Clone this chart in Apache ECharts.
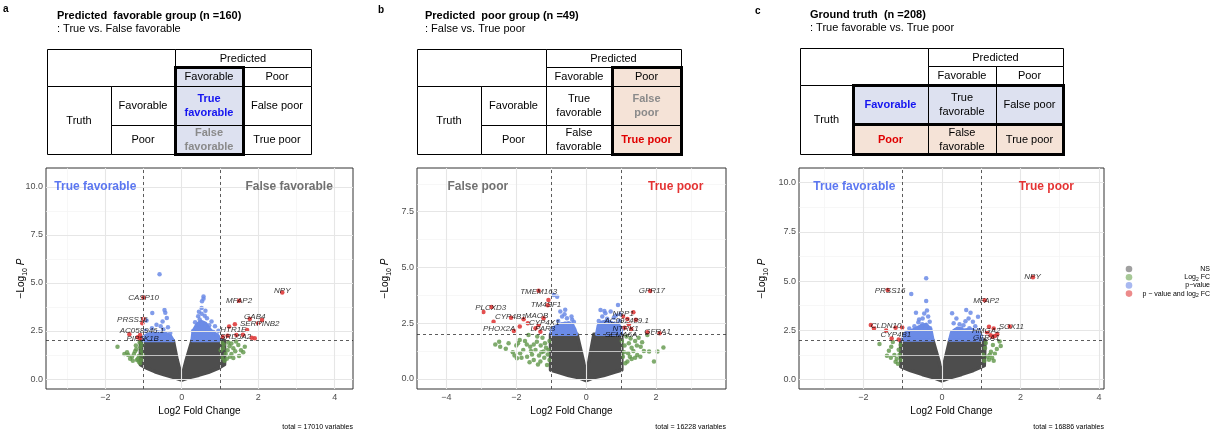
<!DOCTYPE html>
<html><head><meta charset="utf-8">
<script src="https://cdn.jsdelivr.net/npm/echarts@6/dist/echarts.min.js"></script>
<style>html,body{margin:0;padding:0;background:#fff}#c{width:1217px;height:438px}</style>
</head><body><div id="c"></div>
<script>
// ---------------- DATA ----------------
// Panel a : Predicted favorable group
const A_X_TICKS = [-2, 0, 2, 4];
const A_X_MINOR = [-3, -1, 1, 3];
const A_Y_TICKS = [0, 2.5, 5, 7.5, 10];
const A_Y_MINOR = [1.25, 3.75, 6.25, 8.75];
const A_GREY_AREA = [[-1.08,2.0],[-1.08,0.75],[-0.9,0.55],[-0.7,0.38],[-0.45,0.22],[-0.2,0.08],[0,-0.05],[0.2,0.08],[0.45,0.2],[0.7,0.35],[0.95,0.55],[1.12,0.75],[1.12,2.0],[0.27,2.0],[0.12,1.0],[0.03,0.32],[0,0.22],[-0.03,0.32],[-0.12,1.0],[-0.22,2.0]];
const A_BLUE_AREA_L = [[-1.0,2.0],[-1.0,2.2],[-0.85,2.35],[-0.65,2.45],[-0.45,2.4],[-0.3,2.25],[-0.22,2.0]];
const A_BLUE_AREA_R = [[0.27,2.0],[0.3,2.5],[0.4,2.85],[0.5,3.0],[0.62,2.9],[0.75,2.55],[0.9,2.3],[1.0,2.15],[1.0,2.0]];
const A_BLUE = [[-0.58,5.45],[-0.77,3.44],[-0.45,3.6],[-0.43,3.45],[-0.39,3.18],[-0.92,3.05],[-0.5,3.0],[-0.66,2.82],[-0.78,2.65],[-0.48,2.58],[-0.3,2.4],[-0.7,2.3],[-0.95,2.5],[-0.55,2.75],[-0.36,2.7],[-0.6,2.2],[-0.85,2.15],
  [0.57,4.3],[0.57,4.18],[0.53,4.05],[0.52,3.7],[0.35,2.95],[0.43,3.27],[0.52,3.4],[0.66,3.17],[0.78,3.0],[0.87,2.75],[0.4,2.65],[0.52,2.87],[0.96,2.52],[0.92,2.3],[0.6,3.3],[0.47,3.1],[0.72,2.8],[0.3,2.5],[0.68,2.6],[0.83,2.45],[0.62,3.55],[0.45,3.5]];
const A_GREEN = [[-1.68,1.68],[-1.43,1.39],[-1.19,1.55],[-1.17,0.99],[-1.09,0.82],[-1.3,1.16],[-1.25,1.3],[-1.12,1.2],[-1.05,1.45],[-1.2,1.75],[-1.1,1.9],[-1.35,1.05],[-1.15,1.05],[-1.05,1.0],[-1.28,0.95],[-1.08,1.65],[-1.22,1.45],[-1.4,1.25],[-1.02,1.25],[-1.12,0.9],[-1.5,1.3],[-1.03,1.8],
  [1.61,1.39],[1.65,1.68],[1.48,1.77],[1.26,1.16],[1.2,1.5],[1.1,1.8],[1.35,1.6],[1.15,1.3],[1.05,1.1],[1.3,1.3],[1.4,1.45],[1.08,1.6],[1.22,1.9],[1.5,1.2],[1.18,1.05],[1.02,1.5],[1.3,1.85],[1.42,1.95],[1.12,0.95],[1.55,1.5],[1.25,1.7],[1.05,1.9],[1.35,1.1]];
const A_RED = [[2.63,4.5],[-1.0,4.25],[1.5,4.08],[1.78,3.13],[2.1,3.07],[2.0,2.9],[1.24,2.73],[1.39,2.85],[1.71,2.55],[1.43,2.29],[1.83,2.15],[1.91,2.12],[1.07,2.2],[-1.0,3.13],[-1.03,2.9],[-1.37,2.33],[-1.09,2.29],[-1.09,2.12],[-1.15,2.18],[1.2,2.25],[1.6,2.3]];
const A_GENES = [['NPY',2.63,4.62],['CASP10',-1.0,4.25],['MFAP2',1.5,4.08],['GAB4',1.91,3.25],['SERPINB2',2.04,2.86],['PRSS16',-1.29,3.07],['HTR1E',1.35,2.55],['AC058946.1',-1.04,2.5],['SRD5A2',1.41,2.2],['PIP5K1B',-1.02,2.12]];
const A_CORNERS = [['True favorable',-2.26,10.0],['False favorable',2.81,10.0]];

// Panel b : Predicted poor group
const B_X_TICKS = [-4, -2, 0, 2];
const B_X_MINOR = [-3, -1, 1, 3];
const B_Y_TICKS = [0, 2.5, 5, 7.5];
const B_Y_MINOR = [1.25, 3.75, 6.25, 8.75];
const B_GREY_AREA = [[-1.02,2.0],[-1.02,0.4],[-0.8,0.3],[-0.5,0.15],[-0.2,0.05],[0,-0.08],[0.2,0.05],[0.5,0.15],[0.8,0.3],[1.02,0.4],[1.02,2.0],[0.22,2.0],[0.08,0.8],[0,0.15],[-0.08,0.8],[-0.26,2.0]];
const B_BLUE_AREA_L = [[-1.0,2.0],[-0.98,2.25],[-0.8,2.4],[-0.6,2.5],[-0.4,2.45],[-0.32,2.2],[-0.28,2.0]];
const B_BLUE_AREA_R = [[0.3,2.0],[0.35,2.4],[0.45,2.55],[0.6,2.6],[0.75,2.5],[0.9,2.45],[1.0,2.3],[1.0,2.0]];
const B_BLUE = [[-0.93,3.77],[-0.83,3.69],[-0.74,3.02],[-0.55,2.72],[-0.4,2.65],[-0.69,2.8],[-0.5,2.5],[-0.45,2.35],[-0.8,2.6],[-0.62,2.9],[-0.35,2.55],[-0.9,2.3],[-0.7,2.45],[-0.55,2.2],[-0.98,2.1],[-0.42,2.8],[-0.6,3.1],
  [0.91,3.32],[0.41,3.09],[0.7,3.02],[0.46,2.8],[0.79,2.75],[0.55,2.95],[0.85,2.85],[0.36,2.6],[0.6,2.7],[0.95,2.6],[0.5,2.35],[0.72,2.4],[0.88,2.25],[0.42,2.2],[0.65,2.5],[0.98,2.9],[0.52,3.05]];
const B_GREEN = [[-2.49,1.67],[-2.46,1.45],[-2.22,1.6],[-1.98,0.93],[-1.89,1.15],[-1.69,1.0],[-1.6,1.45],[-1.41,1.67],[-1.31,0.78],[-1.22,1.23],[-1.12,0.63],[-1.65,1.97],[-2.3,1.35],[-2.1,1.2],[-2.0,1.5],[-1.8,1.3],[-1.75,1.7],[-1.55,1.1],[-1.5,0.85],[-1.45,1.3],[-1.35,1.05],[-1.3,1.5],[-1.25,1.85],[-1.2,0.95],[-1.15,1.4],[-1.1,1.1],[-1.05,1.7],[-1.05,0.85],[-1.4,1.9],[-1.9,1.75],[-1.7,1.55],[-2.05,1.05],[-1.85,0.95],[-1.58,1.25],[-1.28,1.2],[-1.18,1.6],[-1.5,1.55],[-1.62,0.75],[-1.08,1.3],[-1.38,0.65],[-2.6,1.55],[-1.95,1.6],
  [2.21,1.41],[2.04,1.23],[1.94,0.78],[1.8,1.23],[1.56,1.45],[1.46,1.08],[1.27,1.82],[1.18,0.78],[1.75,1.97],[1.3,1.4],[1.2,1.15],[1.1,1.5],[1.05,1.0],[1.4,1.7],[1.35,1.25],[1.15,1.9],[1.08,1.2],[1.6,1.65],[1.25,1.0],[1.5,1.85],[1.12,0.7],[1.45,1.5],[1.3,0.9],[1.65,1.25],[1.02,1.7],[1.22,1.6],[1.55,1.0],[1.4,0.95]];
const B_RED = [[-2.94,3.0],[-2.71,3.23],[-2.65,2.56],[-2.15,2.74],[-1.9,2.35],[-2.07,2.15],[-1.79,2.68],[-1.67,2.5],[-1.45,2.27],[-1.36,2.42],[-1.31,2.12],[-1.08,3.54],[-1.36,3.96],[-1.1,3.3],[-1.22,2.72],
  [1.83,3.95],[1.35,2.99],[1.18,2.69],[1.42,2.65],[1.22,2.45],[1.29,2.24],[1.75,2.09],[1.05,2.8],[1.1,2.3],[2.1,2.05]];
const B_GENES = [['TMEM163',-1.36,3.92],['GPR17',1.88,3.95],['TM4SF1',-1.15,3.32],['PLCXD3',-2.73,3.17],['CYP4B1',-2.17,2.77],['MAOB',-1.42,2.84],['CYP4X1',-1.2,2.54],['PHOX2A',-2.49,2.23],['LPAR3',-1.24,2.24],['NRP1',1.06,2.91],['AC092489.1',1.16,2.62],['NTRK1',1.13,2.27],['SEMA6A',1.0,1.97],['GFRA1',2.04,2.12]];
const B_CORNERS = [['False poor',-3.1,8.61],['True poor',2.56,8.61]];

// Panel c : Ground truth
const C_X_TICKS = [-2, 0, 2, 4];
const C_X_MINOR = [-3, -1, 1, 3];
const C_Y_TICKS = [0, 2.5, 5, 7.5, 10];
const C_Y_MINOR = [1.25, 3.75, 6.25, 8.75];
const C_GREY_AREA = [[-1.05,2.0],[-1.05,0.65],[-0.8,0.45],[-0.5,0.25],[-0.2,0.08],[0,-0.08],[0.2,0.08],[0.5,0.25],[0.8,0.45],[1.08,0.7],[1.1,2.0],[0.2,2.0],[0.07,0.9],[0,0.2],[-0.07,0.9],[-0.23,2.0]];
const C_BLUE_AREA_L = [[-1.0,2.0],[-0.95,2.3],[-0.75,2.5],[-0.55,2.7],[-0.4,2.8],[-0.28,2.5],[-0.23,2.0]];
const C_BLUE_AREA_R = [[0.2,2.0],[0.25,2.4],[0.4,2.6],[0.55,2.5],[0.75,2.55],[0.9,2.4],[1.0,2.2],[1.0,2.0]];
const C_BLUE = [[-0.4,5.14],[-0.78,4.34],[-0.4,3.98],[-0.66,3.39],[-0.45,3.35],[-0.49,3.1],[-0.31,2.93],[-0.83,2.59],[-0.9,2.4],[-0.6,2.9],[-0.35,3.2],[-0.5,2.8],[-0.7,2.7],[-0.42,2.55],[-0.95,2.25],[-0.3,2.6],[-0.58,3.05],[-0.38,3.5],
  [0.62,3.53],[0.73,3.39],[0.26,3.36],[0.92,3.19],[0.37,3.1],[0.79,2.93],[0.49,2.59],[0.3,2.85],[0.6,2.95],[0.85,2.7],[0.95,2.5],[0.45,2.8],[0.68,3.1],[0.55,2.75],[0.35,2.5],[0.8,2.35],[0.98,2.25],[0.7,2.6]];
const C_GREEN = [[-1.59,1.8],[-1.29,1.66],[-1.21,1.24],[-1.04,0.98],[-1.15,1.05],[-1.35,1.45],[-1.1,1.5],[-1.25,1.9],[-1.05,1.75],[-1.18,0.9],[-1.4,1.2],[-1.08,1.25],[-1.3,1.1],[-1.12,0.8],
  [1.47,1.92],[1.3,1.75],[1.17,1.15],[1.25,1.4],[1.1,1.6],[1.05,1.25],[1.35,1.3],[1.2,1.0],[1.4,1.55],[1.12,1.85],[1.28,1.1],[1.08,0.95],[1.5,1.7],[1.22,1.25],[1.32,0.95]];
const C_RED = [[-1.81,2.76],[-1.73,2.59],[-1.42,2.49],[-1.18,2.63],[-1.01,2.64],[-1.1,2.03],[-1.28,2.08],[1.2,2.68],[1.32,2.59],[1.73,2.69],[1.24,2.25],[1.29,2.17],[1.41,2.3],[1.09,4.03],[2.32,5.19],[-1.38,4.54],[1.15,2.4],[1.35,2.2]];
const C_GENES = [['NPY',2.31,5.2],['PRSS16',-1.32,4.52],['MFAP2',1.13,4.0],['SOX11',1.77,2.69],['CLDN10',-1.42,2.75],['CYP4B1',-1.17,2.25],['HMGA2',1.13,2.47],['GFRA1',1.13,2.14]];
const C_CORNERS = [['True favorable',-2.23,9.78],['True poor',2.66,9.78]];

const FC_CUTOFFS = [-1, 1];
const P_CUTOFF = 2;

// ---------------- STYLE / LAYOUT ----------------
const FONT = "'Liberation Sans', Arial, Helvetica, sans-serif";
const TFONT = "'Liberation Sans Narrow', 'Liberation Sans', Arial, sans-serif";
const COL = {grey:'#4d4d4d', green:'#5f9649', blue:'#6b8be6', red:'#e03c3c'};
const CORNER_COL = {'True favorable':'#3355ee', 'False favorable':'#4d4d4d', 'False poor':'#4d4d4d', 'True poor':'#dd0000'};
const BLUEF = '#dde1f0', PEACH = '#f5e3d7';

const PANELS = [
  {grid:{left:46, top:168, width:307, height:221}, x:[-3.55,4.48], y:[-0.52,10.99], nameGap:17,
   xt:A_X_TICKS, xm:A_X_MINOR, yt:A_Y_TICKS, ym:A_Y_MINOR, grey:A_GREY_AREA, bl:A_BLUE_AREA_L, br:A_BLUE_AREA_R,
   blue:A_BLUE, green:A_GREEN, red:A_RED, genes:A_GENES, corners:A_CORNERS, total:'total = 17010 variables'},
  {grid:{left:417, top:168, width:309, height:221}, x:[-4.84,4.0], y:[-0.45,9.46], nameGap:24,
   xt:B_X_TICKS, xm:B_X_MINOR, yt:B_Y_TICKS, ym:B_Y_MINOR, grey:B_GREY_AREA, bl:B_BLUE_AREA_L, br:B_BLUE_AREA_R,
   blue:B_BLUE, green:B_GREEN, red:B_RED, genes:B_GENES, corners:B_CORNERS, total:'total = 16228 variables'},
  {grid:{left:799, top:168, width:305, height:221}, x:[-3.64,4.13], y:[-0.49,10.75], nameGap:29,
   xt:C_X_TICKS, xm:C_X_MINOR, yt:C_Y_TICKS, ym:C_Y_MINOR, grey:C_GREY_AREA, bl:C_BLUE_AREA_L, br:C_BLUE_AREA_R,
   blue:C_BLUE, green:C_GREEN, red:C_RED, genes:C_GENES, corners:C_CORNERS, total:'total = 16886 variables'}
];

const fmtX = v => (v < 0 ? '\u2212' + Math.abs(v) : String(v));
const fmtY = v => v.toFixed(1);

const grids = [], xAxes = [], yAxes = [], series = [];
PANELS.forEach((P, i) => {
  grids.push(Object.assign({show:true, borderColor:'#333', borderWidth:1, backgroundColor:'#fff', containLabel:false}, P.grid));
  xAxes.push({type:'value', gridIndex:i, min:P.x[0], max:P.x[1],
    name:'Log2 Fold Change', nameLocation:'middle', nameGap:17, nameMoveOverlap:false,
    nameTextStyle:{fontFamily:FONT, fontSize:10, color:'#000'},
    axisLine:{show:false}, splitLine:{show:false},
    axisTick:{show:true, length:3, customValues:P.xt, lineStyle:{color:'#333'}},
    axisLabel:{customValues:P.xt, formatter:fmtX, fontFamily:FONT, fontSize:9, color:'#4d4d4d', margin:4}});
  yAxes.push({type:'value', gridIndex:i, min:P.y[0], max:P.y[1],
    name:'{a|\u2212Log}{s|10}{a| }{i|P}', nameLocation:'middle', nameGap:P.nameGap, nameRotate:90,
    nameMoveOverlap:false,
    nameTextStyle:{fontFamily:FONT, color:'#000', rich:{
      a:{fontFamily:FONT, fontSize:10, color:'#000', lineHeight:14},
      s:{fontFamily:FONT, fontSize:7, color:'#000', lineHeight:16, verticalAlign:'bottom'},
      i:{fontFamily:FONT, fontSize:10, color:'#000', fontStyle:'italic', lineHeight:14}}},
    axisLine:{show:false}, splitLine:{show:false},
    axisTick:{show:true, length:3, customValues:P.yt, lineStyle:{color:'#333'}},
    axisLabel:{customValues:P.yt, formatter:fmtY, fontFamily:FONT, fontSize:9, color:'#4d4d4d', margin:3}});
  const ax = {xAxisIndex:i, yAxisIndex:i};
  // background grid lines
  const gl = [];
  P.xm.forEach(v => gl.push({xAxis:v, lineStyle:{color:'#f3f3f3', width:0.7, type:'solid'}}));
  P.ym.forEach(v => gl.push({yAxis:v, lineStyle:{color:'#f3f3f3', width:0.7, type:'solid'}}));
  P.xt.forEach(v => gl.push({xAxis:v, lineStyle:{color:'#e6e6e6', width:1.1, type:'solid'}}));
  P.yt.forEach(v => gl.push({yAxis:v, lineStyle:{color:'#e6e6e6', width:1.1, type:'solid'}}));
  series.push({type:'scatter', ...ax, data:[], z:1, silent:true,
    markLine:{silent:true, symbol:'none', animation:false, label:{show:false}, data:gl}});
  // dense clouds
  const polys = [{pts:P.grey, color:COL.grey}, {pts:P.bl, color:COL.blue}, {pts:P.br, color:COL.blue}];
  series.push({type:'custom', ...ax, z:2, silent:true, clip:true,
    data: polys.map(p => p.pts[0]),
    renderItem:(params, api) => {
      const p = polys[params.dataIndex];
      return {type:'polygon', shape:{points:p.pts.map(q => api.coord(q))},
        style:{fill:p.color, stroke:p.color, lineWidth:3.5, lineJoin:'round'}};
    }});
  series.push({type:'scatter', ...ax, z:3, silent:true, data:P.green, symbolSize:4.5,
    itemStyle:{color:COL.green, opacity:0.8}});
  series.push({type:'scatter', ...ax, z:3, silent:true, data:P.blue, symbolSize:4.5,
    itemStyle:{color:COL.blue, opacity:0.85}});
  series.push({type:'scatter', ...ax, z:4, silent:true, data:P.red, symbolSize:4.5,
    itemStyle:{color:COL.red, opacity:0.9}});
  // cutoff lines
  const cl = FC_CUTOFFS.map(v => ({xAxis:v})).concat([{yAxis:P_CUTOFF}]);
  series.push({type:'scatter', ...ax, data:[], z:5, silent:true,
    markLine:{silent:true, symbol:'none', animation:false, label:{show:false},
      lineStyle:{color:'#333', width:0.8, type:[3,3]}, data:cl}});
  // gene labels
  series.push({type:'scatter', ...ax, z:6, silent:true, symbolSize:0,
    data:P.genes.map(g => ({name:g[0], value:[g[1], g[2]]})),
    label:{show:true, position:'inside', formatter:'{b}', color:'#000', fontStyle:'italic',
      fontFamily:FONT, fontSize:8}});
  // corner group names
  series.push({type:'scatter', ...ax, z:6, silent:true, symbolSize:0,
    data:P.corners.map(g => ({name:g[0], value:[g[1], g[2]],
      label:{color:CORNER_COL[g[0]]}})),
    label:{show:true, position:'inside', formatter:'{b}', fontWeight:'bold',
      fontFamily:FONT, fontSize:12}});
});

// ---------------- GRAPHICS: titles, tables, legend ----------------
const G = [];
function txt(x, y, text, o = {}) {
  G.push({type:'text', x, y, z:10, style:Object.assign({text, fontFamily:FONT, fontSize:10, fill:'#000',
    align:'left', verticalAlign:'middle'}, o)});
}
function cell(x0, y0, x1, y1, text, o = {}) {
  G.push({type:'rect', z:5, shape:{x:x0+0.5, y:y0+0.5, width:x1-x0, height:y1-y0},
    style:{fill:o.fill || '#fff', stroke:'#000', lineWidth:1}});
  if (text) G.push({type:'text', z:8, x:(x0+x1)/2, y:(y0+y1)/2+0.5,
    style:{text, align:'center', verticalAlign:'middle', fontFamily:FONT, fontSize:11,
      fontWeight:o.bold ? 'bold' : 'normal', fill:o.color || '#000', lineHeight:14}});
}
function thick(x0, y0, x1, y1) {
  G.push({type:'rect', z:7, shape:{x:x0+0.5, y:y0+0.5, width:x1-x0, height:y1-y0},
    style:{fill:null, stroke:'#000', lineWidth:3}});
}
// panel letters & titles
txt(3, 9, 'a', {fontWeight:'bold', fontSize:10});
txt(378, 10, 'b', {fontWeight:'bold', fontSize:10});
txt(755, 11, 'c', {fontWeight:'bold', fontSize:10});
txt(57, 16, 'Predicted  favorable group (n =160)', {fontWeight:'bold', fontFamily:TFONT, fontSize:11});
txt(57, 29, ': True vs. False favorable', {fontFamily:TFONT, fontSize:11});
txt(425, 16, 'Predicted  poor group (n =49)', {fontWeight:'bold', fontFamily:TFONT, fontSize:11});
txt(425, 29, ': False vs. True poor', {fontFamily:TFONT, fontSize:11});
txt(810, 15, 'Ground truth  (n =208)', {fontWeight:'bold', fontFamily:TFONT, fontSize:11});
txt(810, 28, ': True favorable vs. True poor', {fontFamily:TFONT, fontSize:11});

// table a
cell(47,49,175,86,'');
cell(175,49,311,67,'Predicted');
cell(175,67,243,86,'Favorable',{fill:BLUEF});
cell(243,67,311,86,'Poor');
cell(47,86,111,154,'Truth');
cell(111,86,175,125,'Favorable');
cell(111,125,175,154,'Poor');
cell(175,86,243,125,'True\nfavorable',{fill:BLUEF,bold:true,color:'#1414f0'});
cell(243,86,311,125,'False poor');
cell(175,125,243,154,'False\nfavorable',{fill:BLUEF,bold:true,color:'#8a8a8a'});
cell(243,125,311,154,'True poor');
thick(175,67,243,154);
// table b
cell(417,49,546,86,'');
cell(546,49,681,67,'Predicted');
cell(546,67,612,86,'Favorable');
cell(612,67,681,86,'Poor',{fill:PEACH});
cell(417,86,481,154,'Truth');
cell(481,86,546,125,'Favorable');
cell(481,125,546,154,'Poor');
cell(546,86,612,125,'True\nfavorable');
cell(612,86,681,125,'False\npoor',{fill:PEACH,bold:true,color:'#8a8a8a'});
cell(546,125,612,154,'False\nfavorable');
cell(612,125,681,154,'True poor',{fill:PEACH,bold:true,color:'#e00000'});
thick(612,67,681,154);
// table c
cell(800,48,928,85,'');
cell(928,48,1063,66,'Predicted');
cell(928,66,996,85,'Favorable');
cell(996,66,1063,85,'Poor');
cell(800,85,853,154,'Truth');
cell(853,85,928,124,'Favorable',{fill:BLUEF,bold:true,color:'#1414f0'});
cell(853,124,928,154,'Poor',{fill:PEACH,bold:true,color:'#e00000'});
cell(928,85,996,124,'True\nfavorable',{fill:BLUEF});
cell(996,85,1063,124,'False poor',{fill:BLUEF});
cell(928,124,996,154,'False\nfavorable',{fill:PEACH});
cell(996,124,1063,154,'True poor',{fill:PEACH});
thick(853,85,1063,124);
thick(853,124,1063,154);

// totals
PANELS.forEach(P => txt(P.grid.left + P.grid.width, 427, P.total, {align:'right', fontSize:7}));

// legend
const LEGEND = [['NS','#a0a0a0'], ['Log{s|2} FC','#a6c896'], ['p\u2212value','#a8b8f0'], ['p \u2212 value and log{s|2} FC','#ec8a8a']];
LEGEND.forEach((l, k) => {
  const y = 269 + k * 8.2;
  G.push({type:'circle', z:10, shape:{cx:1129, cy:y, r:3.3}, style:{fill:l[1]}});
  G.push({type:'text', z:10, x:1210, y:y, style:{text:l[0], align:'right', verticalAlign:'middle',
    fontFamily:FONT, fontSize:7, fill:'#000',
    rich:{s:{fontSize:5, fontFamily:FONT, verticalAlign:'bottom', lineHeight:10}}}});
});

const chart = echarts.init(document.getElementById('c'), null, {renderer:'canvas'});
chart.setOption({animation:false, backgroundColor:'#fff',
  grid:grids, xAxis:xAxes, yAxis:yAxes, series, graphic:G});
</script></body></html>
